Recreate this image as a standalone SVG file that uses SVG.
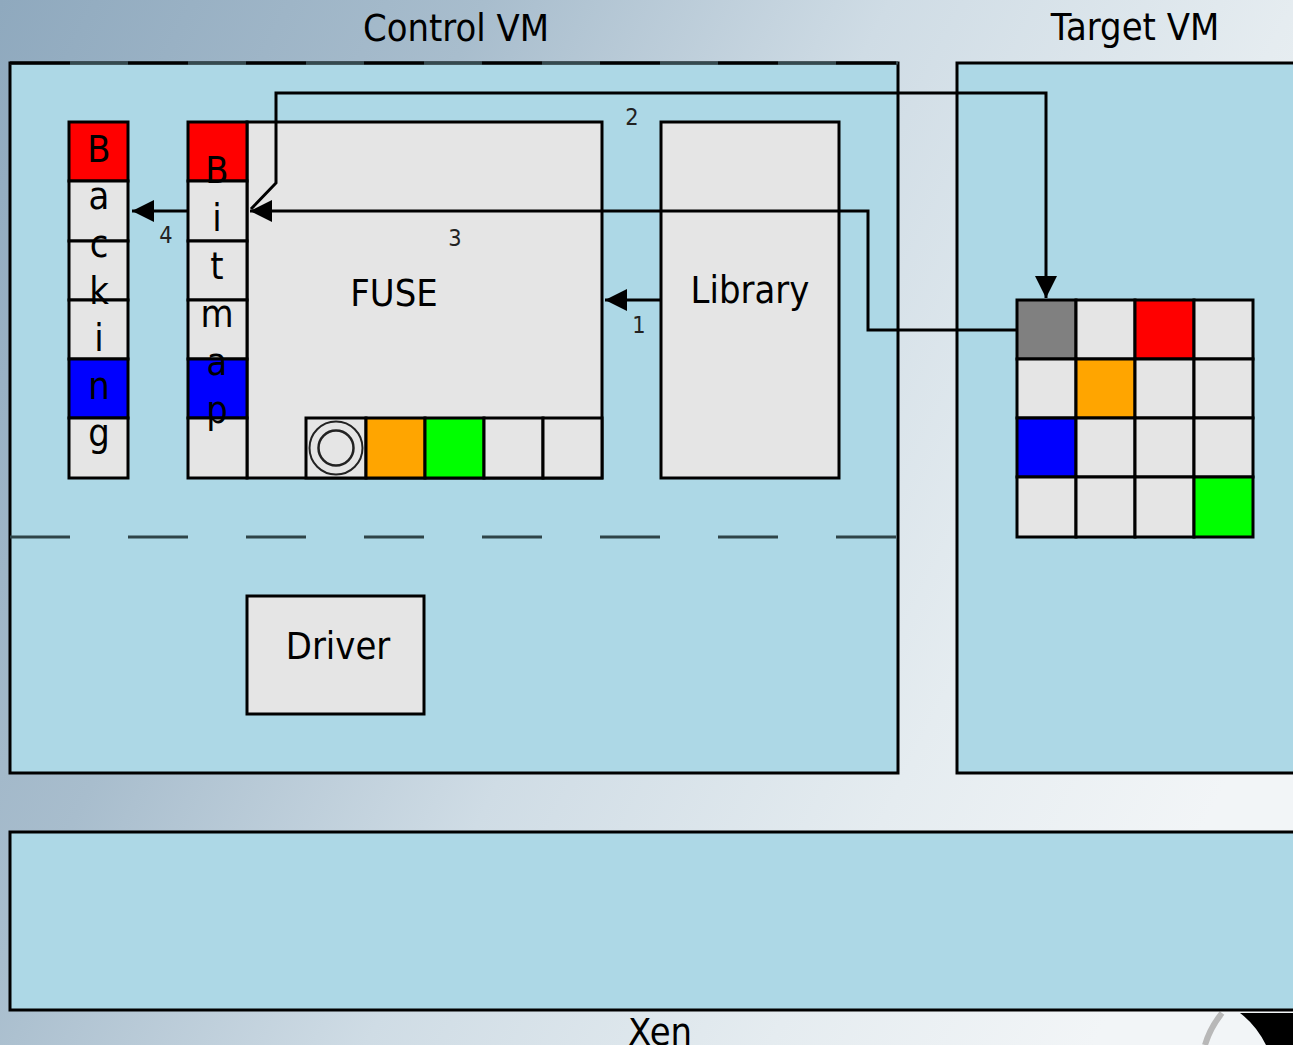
<svg xmlns="http://www.w3.org/2000/svg" width="1293" height="1045" viewBox="0 0 1293 1045">
<defs>
<linearGradient id="bg" x1="0" y1="0" x2="1293" y2="650" gradientUnits="userSpaceOnUse">
<stop offset="0" stop-color="#8fa9be"/>
<stop offset="0.3" stop-color="#a8bdcd"/>
<stop offset="0.55" stop-color="#cfdce5"/>
<stop offset="0.8" stop-color="#e5ecf0"/>
<stop offset="1" stop-color="#f2f5f7"/>
</linearGradient>
<marker id="ah" viewBox="0 0 22 22" refX="22" refY="11" markerWidth="22" markerHeight="22" markerUnits="userSpaceOnUse" orient="auto">
<path d="M0,0 L22,11 L0,22 z" fill="#000"/>
</marker>
<style>
.vm{fill:#add8e6;stroke:#000;stroke-width:3}
.box{fill:#e5e5e5;stroke:#000;stroke-width:3}
.cell{stroke:#000;stroke-width:3}
.lt{fill:#e5e5e5}
.rd{fill:#ff0000}
.bl{fill:#0000ff}
.or{fill:#ffa500}
.gr{fill:#00ff00}
.gy{fill:#808080}
.t{font-family:"DejaVu Sans","Liberation Sans",sans-serif;font-size:34px;fill:#000;text-anchor:middle}
.d{font-size:21px;fill:#222}
.c{fill:none;stroke:#000;stroke-width:3}
.dash{stroke:#2f4448;stroke-width:3;stroke-dasharray:60 58}
</style>
</defs>
<rect x="0" y="0" width="1293" height="1045" fill="url(#bg)"/>
<path d="M1222,1013 Q1210,1028 1205,1045" fill="none" stroke="#b8b8b8" stroke-width="6"/>
<path d="M1240,1013 L1293,1013 L1293,1045 L1266,1045 Q1256,1025 1240,1013 z" fill="#000"/>

<g id="control-vm">
<rect class="vm" x="10" y="63" width="888" height="710"/>
<line x1="10" y1="63" x2="898" y2="63" stroke="#34494e" stroke-width="3"/>
<line x1="10" y1="63" x2="898" y2="63" stroke="#000" stroke-width="3" stroke-dasharray="60 58"/>
<line class="dash" x1="10" y1="537" x2="898" y2="537"/>
<text class="t" transform="translate(456,41) scale(1,1.12)">Control VM</text>
</g>

<g id="target-vm">
<rect class="vm" x="957" y="63" width="350" height="710"/>
<text class="t" transform="translate(1135,40) scale(1,1.12)">Target VM</text>
</g>

<g id="xen">
<rect class="vm" x="10" y="832" width="1300" height="178"/>
<text class="t" transform="translate(660,1045) scale(1,1.12)">Xen</text>
</g>

<g id="fuse">
<rect class="box" x="247" y="122" width="355" height="356"/>
<rect class="cell lt" x="306" y="418" width="60" height="60"/>
<circle cx="336" cy="448" r="26.5" fill="none" stroke="#222" stroke-width="2"/>
<circle cx="336" cy="448" r="17.5" fill="none" stroke="#222" stroke-width="2.5"/>
<rect class="cell or" x="366" y="418" width="59" height="60"/>
<rect class="cell gr" x="425" y="418" width="59" height="60"/>
<rect class="cell lt" x="484" y="418" width="59" height="60"/>
<rect class="cell lt" x="543" y="418" width="59" height="60"/>
<text class="t" transform="translate(394,306) scale(1,1.12)">FUSE</text>
</g>

<g id="bitmap">
<rect class="cell rd" x="188" y="122" width="59" height="59"/>
<rect class="cell lt" x="188" y="181" width="59" height="60"/>
<rect class="cell lt" x="188" y="241" width="59" height="59"/>
<rect class="cell lt" x="188" y="300" width="59" height="59"/>
<rect class="cell bl" x="188" y="359" width="59" height="59"/>
<rect class="cell lt" x="188" y="418" width="59" height="60"/>
<text class="t" transform="translate(217,183) scale(1,1.12)"><tspan x="0" dy="0">B</tspan><tspan x="0" dy="42.86">i</tspan><tspan x="0" dy="42.86">t</tspan><tspan x="0" dy="42.86">m</tspan><tspan x="0" dy="42.86">a</tspan><tspan x="0" dy="42.86">p</tspan></text>
</g>

<g id="backing">
<rect class="cell rd" x="69" y="122" width="59" height="59"/>
<rect class="cell lt" x="69" y="181" width="59" height="60"/>
<rect class="cell lt" x="69" y="241" width="59" height="59"/>
<rect class="cell lt" x="69" y="300" width="59" height="59"/>
<rect class="cell bl" x="69" y="359" width="59" height="59"/>
<rect class="cell lt" x="69" y="418" width="59" height="60"/>
<text class="t" transform="translate(99,162) scale(1,1.12)"><tspan x="0" dy="0">B</tspan><tspan x="0" dy="42.26">a</tspan><tspan x="0" dy="42.26">c</tspan><tspan x="0" dy="42.26">k</tspan><tspan x="0" dy="42.26">i</tspan><tspan x="0" dy="42.26">n</tspan><tspan x="0" dy="42.26">g</tspan></text>
</g>

<g id="library">
<rect class="box" x="661" y="122" width="178" height="356"/>
<text class="t" transform="translate(750,303) scale(1,1.12)">Library</text>
</g>

<g id="driver">
<rect class="box" x="247" y="596" width="177" height="118"/>
<text class="t" transform="translate(338,659) scale(1,1.12)">Driver</text>
</g>

<g id="memory-grid">
<rect class="cell gy" x="1017" y="300" width="59" height="59"/>
<rect class="cell lt" x="1076" y="300" width="59" height="59"/>
<rect class="cell rd" x="1135" y="300" width="59" height="59"/>
<rect class="cell lt" x="1194" y="300" width="59" height="59"/>
<rect class="cell lt" x="1017" y="359" width="59" height="59"/>
<rect class="cell or" x="1076" y="359" width="59" height="59"/>
<rect class="cell lt" x="1135" y="359" width="59" height="59"/>
<rect class="cell lt" x="1194" y="359" width="59" height="59"/>
<rect class="cell bl" x="1017" y="418" width="59" height="59"/>
<rect class="cell lt" x="1076" y="418" width="59" height="59"/>
<rect class="cell lt" x="1135" y="418" width="59" height="59"/>
<rect class="cell lt" x="1194" y="418" width="59" height="59"/>
<rect class="cell lt" x="1017" y="477" width="59" height="60"/>
<rect class="cell lt" x="1076" y="477" width="59" height="60"/>
<rect class="cell lt" x="1135" y="477" width="59" height="60"/>
<rect class="cell gr" x="1194" y="477" width="59" height="60"/>
</g>

<g id="connectors">
<path class="c" d="M661,300 H605" marker-end="url(#ah)"/>
<path class="c" d="M251,209 L276,183 V93 H1046 V298" marker-end="url(#ah)"/>
<path class="c" d="M1016,330 H868 V211 H250" marker-end="url(#ah)"/>
<path class="c" d="M188,211 H132" marker-end="url(#ah)"/>
<text class="t d" transform="translate(639,333) scale(1,1.12)">1</text>
<text class="t d" transform="translate(632,125) scale(1,1.12)">2</text>
<text class="t d" transform="translate(455,246) scale(1,1.12)">3</text>
<text class="t d" transform="translate(166,243) scale(1,1.12)">4</text>
</g>
</svg>
